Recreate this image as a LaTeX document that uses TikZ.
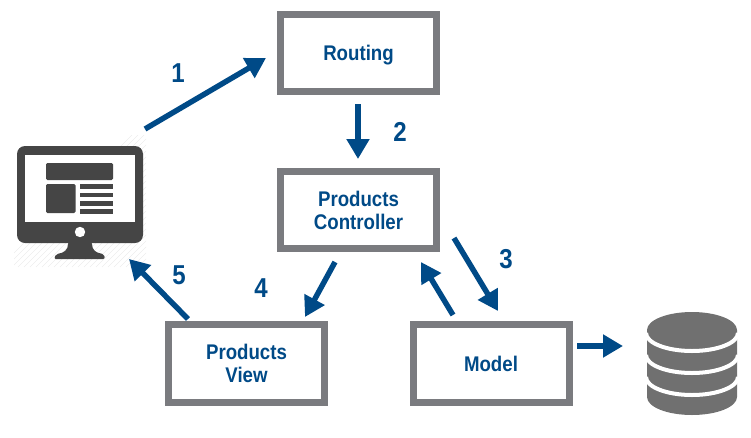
\documentclass[tikz,border=0pt]{standalone}
\usepackage{fontspec}
\setmainfont{Liberation Sans}[FakeStretch=.88]
\usetikzlibrary{arrows.meta}
\definecolor{boxgray}{HTML}{7A7B7F}
\definecolor{flowblue}{HTML}{004A87}
\definecolor{monitorgray}{HTML}{454545}
\definecolor{dbgray}{HTML}{707070}
\tikzset{
  block/.style={draw=boxgray,line width=5.25pt,fill=white,minimum width=117pt,minimum height=58pt,
    align=center,text=flowblue,font=\bfseries\fontsize{15.9}{17.3}\selectfont},
  flow/.style={draw=flowblue,line width=4.1pt,-{Triangle[length=15pt,width=16.5pt]}},
  stepnum/.style={text=flowblue,font=\bfseries\fontsize{20.5}{20.5}\selectfont},
}
\begin{document}
\begin{tikzpicture}[x=.75pt,y=-.75pt]
  \useasboundingbox (0,0) rectangle (751,437);

  % hatch behind the monitor
  \begin{scope}
    \clip (14,135) rectangle (146,267);
    \foreach \i in {0,6,...,270}
      \draw[black!7,line width=.4pt] (\i,267) -- ++(132,-132);
  \end{scope}

  % monitor
  \node[fill=monitorgray,rounded corners=6pt,inner sep=0pt,minimum width=94.5pt,minimum height=72.75pt](Monitor) at (80,194.5) {};
  \fill[white] (25,155) rectangle (135,222);
  \fill[monitorgray,rounded corners=1pt] (46,163) rectangle (113,180);
  \fill[monitorgray,rounded corners=1pt] (46,184) rectangle (75.5,213);
  \foreach \y in {184,192.5,201,209}
    \fill[monitorgray] (80,\y) rectangle (113,\y+4.5);
  \fill[white] (80,232) circle (3.9pt);
  \fill[monitorgray,rounded corners=1.5pt] (68,242) .. controls (68,250) and (64,253) .. (56,254)
    -- (54,259) -- (105,259) -- (104,254) .. controls (96,253) and (92,250) .. (92,242) -- cycle;

  % database
  \fill[dbgray] (647,330) arc[start angle=180,end angle=360,x radius=45,y radius=18]
    -- (737,397) arc[start angle=0,end angle=180,x radius=45,y radius=18] -- cycle;
  \foreach \y in {333,355,377}
    \draw[white,line width=3pt] (646,\y) arc[start angle=180,end angle=0,x radius=46,y radius=18];

  \node[block,text depth=0pt](Routing) at (358.5,53)   {Routing};
  \node[block](Controller)             at (358.5,210)  {Products\\Controller};
  \node[block](View)                   at (246.5,363.5){Products\\View};
  \node[block](Model)                  at (491,363.5)  {Model};

  \coordinate (MonitorOut) at (145,129);
  \coordinate (RoutingIn)  at (266,58);
  \coordinate (RoutingOut) at (358,104);
  \coordinate (CtrlIn)     at (358,159);
  \coordinate (CtrlOut)    at (454,238);
  \coordinate (ModelIn)    at (498,311);
  \coordinate (ModelOut)   at (453,315);
  \coordinate (CtrlBack)   at (421,262);
  \coordinate (CtrlDown)   at (335,262);
  \coordinate (ViewIn)     at (305,317);
  \coordinate (ViewOut)    at (188,319);
  \coordinate (MonitorIn)  at (129,259);
  \coordinate (ModelDb)    at (577,346);
  \coordinate (DbIn)       at (623,346);

  \draw[flow] (MonitorOut) -- (RoutingIn);
  \draw[flow] (RoutingOut) -- (CtrlIn);
  \draw[flow] (CtrlOut)    -- (ModelIn);
  \draw[flow] (ModelOut)   -- (CtrlBack);
  \draw[flow] (CtrlDown)   -- (ViewIn);
  \draw[flow] (ViewOut)    -- (MonitorIn);
  \draw[flow] (ModelDb)    -- (DbIn);

  \node[stepnum](One)   at (178,73)  {1};
  \node[stepnum](Two)   at (400,132) {2};
  \node[stepnum](Three) at (506,259) {3};
  \node[stepnum](Four)  at (261,288) {4};
  \node[stepnum](Five)  at (179,275) {5};
\end{tikzpicture}
\end{document}
